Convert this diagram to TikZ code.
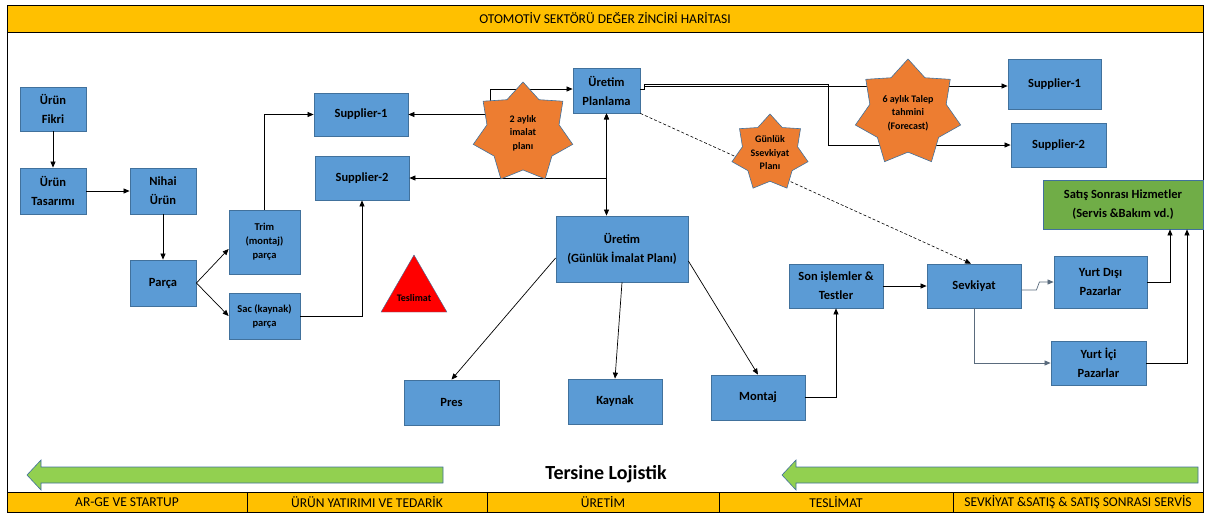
\documentclass[tikz,border=0pt]{standalone}
\usepackage{fontspec}
\setmainfont{Carlito}
\usepackage{tikz}
\usetikzlibrary{shapes.geometric, arrows.meta}
\usepackage{xcolor}
\definecolor{kutumavi}{HTML}{5B9BD5}
\definecolor{kenarmavi}{HTML}{41719C}
\definecolor{turuncu}{HTML}{ED7D31}
\definecolor{sari}{HTML}{FFC000}
\definecolor{acikyesil}{HTML}{92D050}
\definecolor{koyuyesil}{HTML}{70AD47}
\definecolor{griok}{HTML}{5A6B7D}

\begin{document}
\begin{tikzpicture}[x=1pt, y=-1pt,
    kutu/.style={draw=kenarmavi, fill=kutumavi, line width=0.8pt, align=center, inner sep=1pt, font=\bfseries\fontsize{12.5}{19}\selectfont},
    kucukkutu/.style={kutu, font=\bfseries\fontsize{10.5}{14}\selectfont},
    yildiz/.style={star, star points=7, star point ratio=1.38, draw=kenarmavi, fill=turuncu, line width=0.6pt, align=center, inner sep=0pt, font=\bfseries\fontsize{10}{13.5}\selectfont},
    ok/.style={-{Triangle[length=6pt,width=5pt]}, line width=0.7pt},
    ciftok/.style={{Triangle[length=6pt,width=5pt]}-{Triangle[length=6pt,width=5pt]}, line width=0.7pt},
    bant/.style={draw=black, fill=sari, line width=0.8pt, inner sep=0pt, font=\fontsize{13.5}{15}\selectfont}]
    \useasboundingbox (0,0) rectangle (1205,515);

    % Çerçeve ve başlık
    \draw[line width=1pt] (7,5) rectangle (1203,512);
    \node[bant, minimum width=1196pt, minimum height=27pt] (baslik) at (605,18.5) {OTOMOTİV SEKTÖRÜ DEĞER ZİNCİRİ HARİTASI};

    % Alt bant
    \node[bant, minimum width=240pt, minimum height=20pt] (arge) at (127,502) {AR-GE VE STARTUP};
    \node[bant, minimum width=240pt, minimum height=20pt] (yatirim) at (367,502) {ÜRÜN YATIRIMI VE TEDARİK};
    \node[bant, minimum width=232pt, minimum height=20pt] (uretimbant) at (603,502) {ÜRETİM};
    \node[bant, minimum width=234pt, minimum height=20pt] (teslimbant) at (836,502) {TESLİMAT};
    \node[bant, minimum width=250pt, minimum height=20pt] (satisbant) at (1078,502) {SEVKİYAT \&SATIŞ \& SATIŞ SONRASI SERVİS};

    % Tersine lojistik okları
    \draw[kenarmavi, fill=acikyesil, line width=0.6pt] (443,467) -- (41,467) -- (41,460) -- (27,475) -- (41,490) -- (41,483) -- (443,483) -- cycle;
    \draw[kenarmavi, fill=acikyesil, line width=0.6pt] (1198,467) -- (796,467) -- (796,460) -- (782,475) -- (796,490) -- (796,483) -- (1198,483) -- cycle;
    \node[font=\bfseries\fontsize{20}{22}\selectfont] (tersine) at (606,474) {Tersine Lojistik};

    % Ürün geliştirme
    \node[kutu, minimum width=66pt, minimum height=44pt] (fikri) at (53,109) {Ürün\\Fikri};
    \node[kutu, minimum width=66pt, minimum height=46pt] (tasarim) at (53,191) {Ürün\\Tasarımı};
    \node[kutu, minimum width=66pt, minimum height=46pt] (nihai) at (163,191) {Nihai\\Ürün};
    \node[kutu, minimum width=66pt, minimum height=46pt] (parca) at (163,283) {Parça};
    \node[kucukkutu, minimum width=71pt, minimum height=64pt] (trim) at (264.5,242) {Trim\\(montaj)\\parça};
    \node[kucukkutu, minimum width=71pt, minimum height=46pt] (sac) at (264.5,316) {Sac (kaynak)\\parça};

    % Tedarikçiler ve planlama
    \node[kutu, minimum width=94pt, minimum height=43pt] (supA) at (361,114.5) {Supplier-1};
    \node[kutu, minimum width=94pt, minimum height=44pt] (supB) at (362,178) {Supplier-2};
    \node[kutu, minimum width=67pt, minimum height=45pt] (plan) at (606.5,90.5) {Üretim\\Planlama};
    \node[kutu, minimum width=93pt, minimum height=50pt] (supC) at (1054.5,84) {Supplier-1};
    \node[kutu, minimum width=95pt, minimum height=44pt] (supD) at (1058.5,145) {Supplier-2};

    % Üretim
    \node[kutu, minimum width=132pt, minimum height=66pt] (uretim) at (622,249) {Üretim\\(Günlük İmalat Planı)};
    \node[kutu, minimum width=95pt, minimum height=45pt] (pres) at (451.5,402.5) {Pres};
    \node[kutu, minimum width=94pt, minimum height=45pt] (kaynak) at (615,401.5) {Kaynak};
    \node[kutu, minimum width=94pt, minimum height=45pt] (montaj) at (758,397.5) {Montaj};
    \node[kutu, minimum width=94pt, minimum height=44pt] (son) at (836,286) {Son işlemler \&\\Testler};

    % Sevkiyat ve satış
    \node[kutu, minimum width=94pt, minimum height=44pt] (sevk) at (974,286) {Sevkiyat};
    \node[kutu, minimum width=93pt, minimum height=52pt] (yurtdisi) at (1100.5,282) {Yurt Dışı\\Pazarlar};
    \node[kutu, minimum width=95pt, minimum height=44pt] (yurtici) at (1098.5,363) {Yurt İçi\\Pazarlar};
    \node[kutu, fill=koyuyesil, minimum width=160pt, minimum height=49pt] (satis) at (1123,204.5) {Satış Sonrası Hizmetler\\(Servis \&Bakım vd.)};

    % Teslimat üçgeni
    \node[regular polygon, regular polygon sides=3, draw=kenarmavi, fill=red, minimum size=76pt, inner sep=0pt, font=\bfseries\fontsize{10}{12}\selectfont] (teslimat) at (414,293) {\smash{\makebox[0pt]{\raisebox{-8pt}{Teslimat}}}};

    % Bağlantılar
    \draw[ok] (fikri) -- (tasarim);
    \draw[ok] (tasarim) -- (nihai);
    \draw[ok] (nihai) -- (parca);
    \draw[ok] (parca.east) -- ([yshift=-7pt]trim.west);
    \draw[ok] (parca.east) -- (sac.west);
    \draw[ok] (trim.north) |- (supA.west);
    \draw[ok] (sac.east) -| (supB.south);
    \draw[ciftok] (supA.east) -- ++(82,0) |- ([yshift=1.5pt]plan.west);
    \draw[ciftok] (supB.east) -| (plan.south);
    \draw[ciftok] (plan.south) -- (plan.south |- uretim.north);

    \coordinate (catal) at (828,0);
    \draw[ok] ([yshift=1pt]plan.east) -- ++(4,0) |- ([yshift=-2pt]supC.west);
    \draw[ok] ([yshift=1pt]plan.east) -- ++(4,0) |- (catal |- supC.west) |- (supD.west);
    \draw[ok, densely dashed, line width=0.6pt] (plan.south east) -- ([xshift=-3pt]sevk.north);

    \draw[ok] ([yshift=-9pt]uretim.west) -- (pres.north);
    \draw[ok] (uretim.south) -- (kaynak.north);
    \draw[ok] ([yshift=-12pt]uretim.east) -- (montaj.north);
    \draw[ok] (montaj.east) -| (son.south);
    \draw[ok] (son) -- (sevk);
    \draw[ok, griok] ([yshift=-4pt]sevk.east) -- ++(15,0) -- ++(3,-8) -- (yurtdisi.west |- 0,282);
    \draw[ok, griok] (sevk.south) |- (yurtici.west);
    \draw[ok] (yurtdisi.east) -| ([xshift=47pt]satis.south);
    \draw[ok] (yurtici.east) -| ([xshift=64pt]satis.south);

    % Yıldızlar
    \node[yildiz, minimum size=102pt] (ikiay) at (523,133) {2 aylık\\imalat\\planı};
    \node[yildiz, minimum size=108pt] (altiay) at (908,113) {6 aylık Talep\\tahmini\\(Forecast)};
    \node[yildiz, minimum size=78pt] (gunluk) at (770,153) {Günlük\\Ssevkiyat\\Planı};
\end{tikzpicture}
\end{document}
